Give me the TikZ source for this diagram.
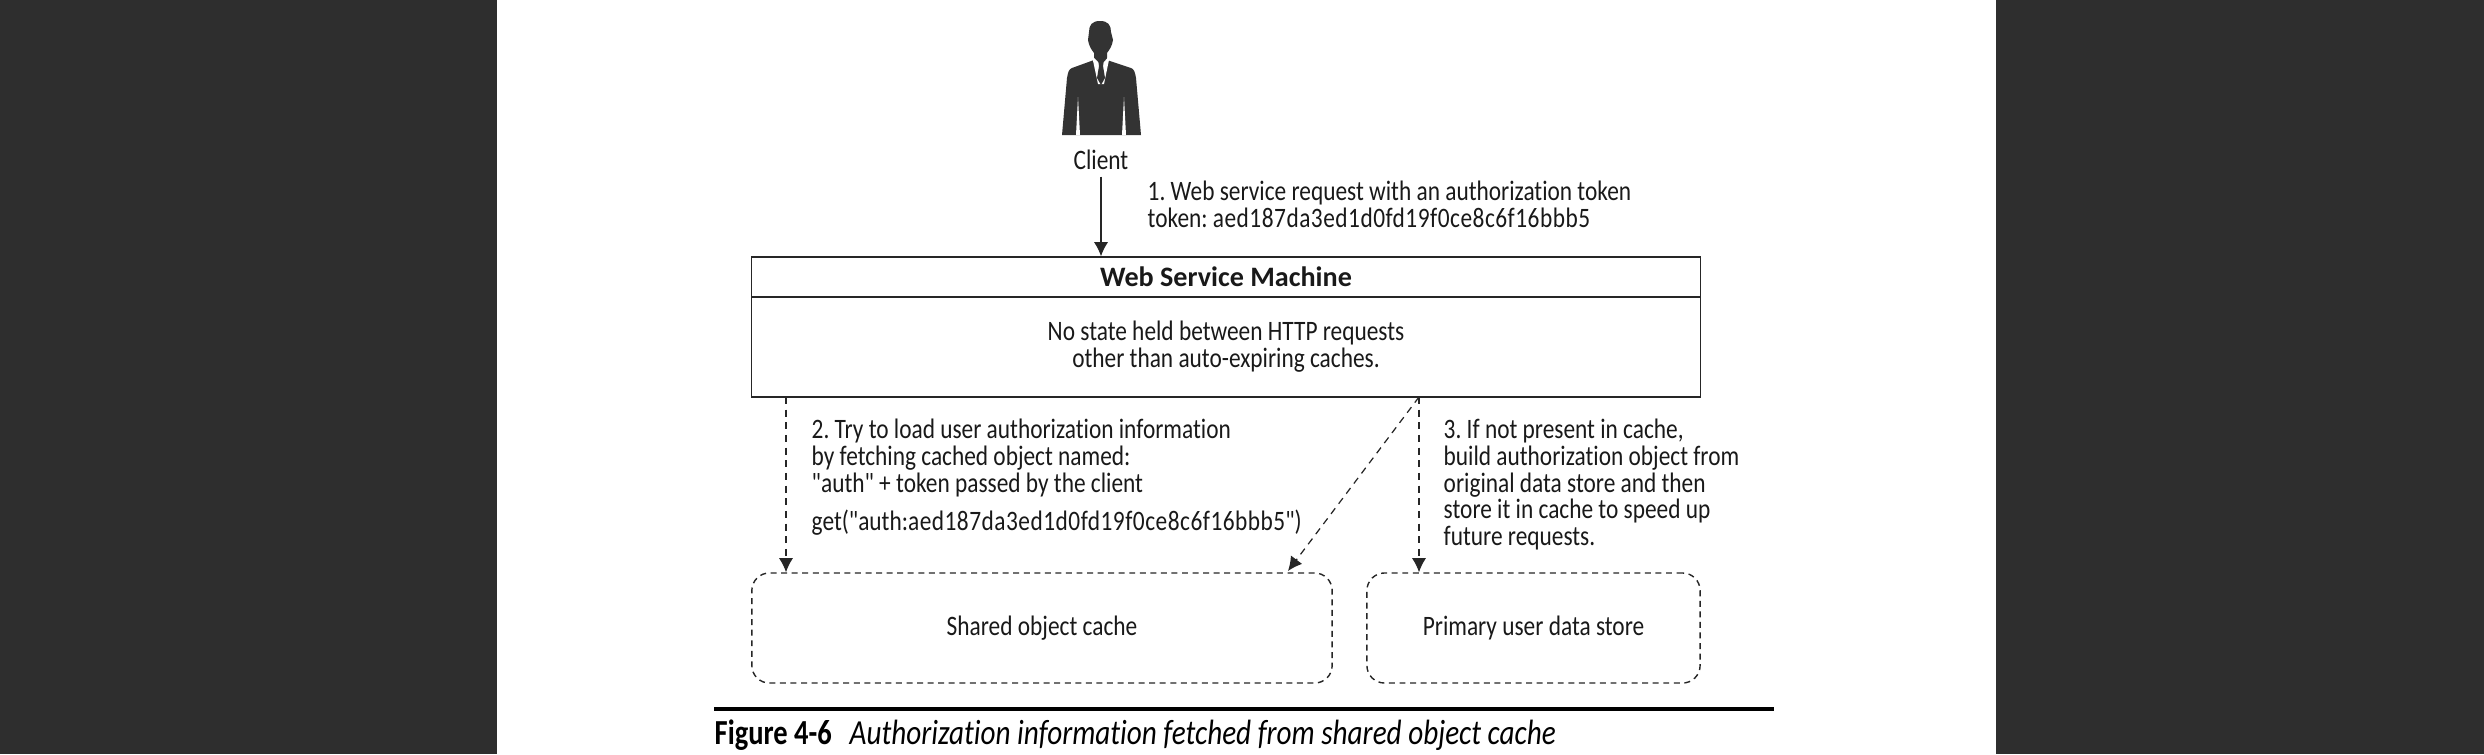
\documentclass[tikz,border=0pt]{standalone}
\usepackage{fontspec}
\setmainfont{Carlito}[FakeStretch=0.83, Ligatures={TeXOff,CommonOff}, BoldFeatures={FakeStretch=1.0}]
\newfontfamily\figfont{Carlito}[FakeStretch=0.81, Ligatures={TeXOff,CommonOff}]
\usetikzlibrary{arrows.meta}
\definecolor{pagedark}{HTML}{2E2E2E}
\definecolor{inkdark}{HTML}{333333}
\newcommand{\bodysize}{\fontsize{8}{7.65}\selectfont}
\newcommand{\tokenhash}{{\addfontfeature{LetterSpace=1.8}aed187da3ed1d0fd19f0ce8c6f16bbb5}}
\tikzset{
  label text/.style={anchor=north west, align=left, inner sep=0pt, font=\bodysize, text=black!90},
  solid box/.style={draw=black!85, line width=0.4pt, inner sep=0pt, font=\bodysize, align=center, text=black!90},
  dashed box/.style={draw=black!85, dash pattern=on 1.7pt off 1.3pt, line width=0.4pt, rounded corners=5pt, inner sep=0pt, font=\bodysize, text=black!90},
  request arrow/.style={-{Latex[length=4pt,width=4pt]}, black!85, line width=0.35pt},
  fetch arrow/.style={request arrow, dash pattern=on 2pt off 1.6pt}
}
\begin{document}
\frenchspacing
\begin{tikzpicture}[x=0.01cm, y=-0.01cm]
    % Background and page
    \useasboundingbox (0,0) rectangle (2484,754);
    \fill[pagedark] (0,0) rectangle (2484,754);
    \fill[white] (497,0) rectangle (1996,754);

    % Client figure
    \fill[inkdark] (1100,21) .. controls (1092,21) and (1089,25) .. (1089,32) -- (1088,40) .. controls (1089,46) and (1091,49) .. (1094,53)
        -- (1094,60) -- (1072,68) .. controls (1069,69) and (1068,72) .. (1067,78) -- (1062,135) -- (1141,135) -- (1136,78)
        .. controls (1135,72) and (1134,69) .. (1131,68) -- (1107,60) -- (1107,53) .. controls (1110,49) and (1112,46) .. (1113,40)
        -- (1111,32) .. controls (1111,25) and (1108,21) .. (1100,21) -- cycle;
    % shirt, tie and sleeves
    \fill[white] (1092,56) -- (1098,62) -- (1104,62) -- (1110,55) -- (1104,84) -- (1098,84) -- cycle;
    \fill[inkdark] (1098,60) -- (1104,60) -- (1103,66) -- (1105,78) -- (1101,85) -- (1097,78) -- (1099,66) -- cycle;
    \fill[white] (1078,97) -- (1076,135) -- (1080,135) -- cycle;
    \fill[white] (1124,97) -- (1122,135) -- (1126,135) -- cycle;

    % Nodes
    \node[inner sep=0pt, font=\bodysize, text=black!90] (client) at (1101,160) {Client};
    \node[solid box, minimum width=9.48cm, minimum height=0.40cm, font=\bodysize\bfseries] (header) at (1226,277) {Web Service Machine};
    \node[solid box, minimum width=9.48cm, minimum height=1.00cm] (machine) at (1226,347) {No state held between HTTP requests\\other than auto-expiring caches.};
    \node[dashed box, minimum width=5.80cm, minimum height=1.10cm] (cache) at (1042,628) {Shared object cache};
    \node[dashed box, minimum width=3.33cm, minimum height=1.10cm] (store) at (1533.5,628) {Primary user data store};

    % Labels
    \node[label text] (step1) at (1147,180) {1. Web service request with an authorization token\\token: \tokenhash};
    \node[label text] (step2) at (811,418) {2. Try to load user authorization information\\by fetching cached object named:\\"auth" + token passed by the client\\[3.4pt]get("auth:\tokenhash")};
    \node[label text] (step3) at (1443,418) {3. If not present in cache,\\build authorization object from\\original data store and then\\store it in cache to speed up\\future requests.};

    % Arrows
    \draw[request arrow] (client.south) ++(0,6) -- (client.south |- header.north);
    \coordinate (leftout) at (786,397);
    \coordinate (rightout) at (1419,397);
    \coordinate (cachein) at (1288,571);
    \draw[fetch arrow] (leftout) -- (leftout |- cache.north);
    \draw[fetch arrow] (rightout) -- (cachein);
    \draw[fetch arrow] (rightout) -- (rightout |- store.north);

    % Caption
    \coordinate (ruleleft) at (714,709);
    \coordinate (ruleright) at (1774,709);
    \draw[black, line width=0.9pt] (ruleleft) -- (ruleright);
    \node[anchor=base west, inner sep=0pt, font=\fontsize{10}{11}\figfont\bfseries] (figno) at (714,744) {Figure 4-6};
    \node[anchor=base west, inner sep=0pt, font=\fontsize{10}{11}\selectfont\itshape] (caption) at (849,744) {Authorization information fetched from shared object cache};
\end{tikzpicture}
\end{document}
